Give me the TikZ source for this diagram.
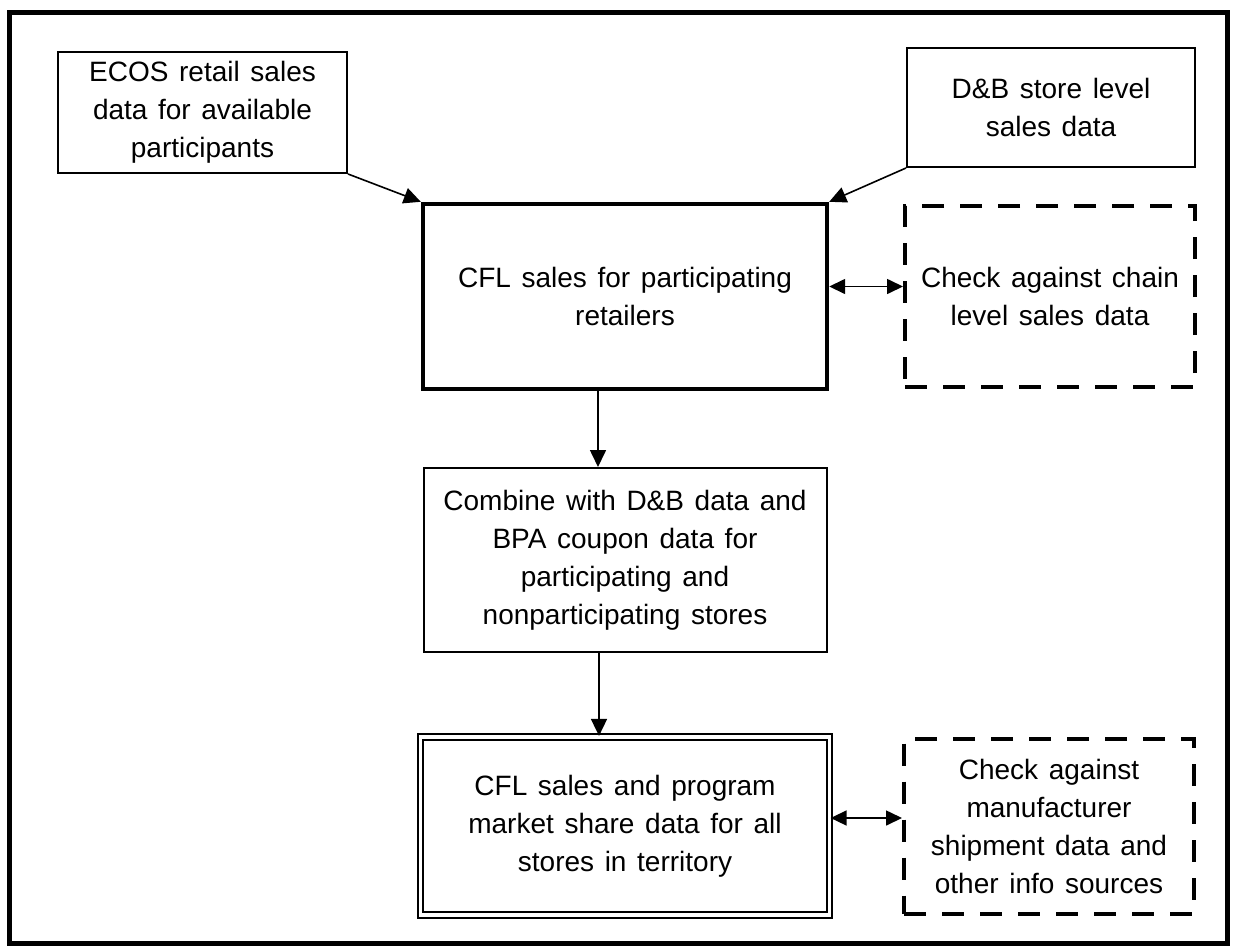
\documentclass[tikz,border=0pt]{standalone}
\usepackage{fontspec}
\setmainfont{Liberation Sans}
\usetikzlibrary{positioning}
\usetikzlibrary{arrows.meta}
\newcommand{\boxfont}{\fontsize{14}{19}\selectfont\spaceskip 0.38em plus 0.1em\relax}

\begin{document}
\begin{tikzpicture}[x=0.5pt, y=-0.5pt,
  box/.style = {draw, line width=1pt, align=center, inner sep=0pt, font=\boxfont},
  mainbox/.style = {box, line width=2.2pt},
  checkbox/.style = {box, line width=2pt, dash pattern=on 11pt off 8pt},
  endbox/.style = {box, line width=1.1pt, double, double distance=1.6pt},
  arr/.style = {line width=0.8pt, -{Triangle[length=8.5pt,width=8pt]}},
  darr/.style = {line width=0.8pt, {Triangle[length=8pt,width=7.5pt]}-{Triangle[length=8pt,width=7.5pt]}}]
            \useasboundingbox (0,0) rectangle (1234,947);
            \draw[line width=2.5pt] (9,13) rectangle (1227,943);
            % Nodes
            \node[mainbox, minimum width=202pt, minimum height=92.5pt] (cfl) at (625,296.5) {CFL sales for participating\\retailers};
            \node[box, minimum width=144.5pt, minimum height=60.5pt] (ecos) at (202.5,112.5) {ECOS retail sales\\data for available\\participants};
            \node[box, minimum width=144pt, minimum height=59.5pt] (dnb) at (1051,107.5) {D\&B store level\\sales data};
            \node[checkbox, minimum width=145pt, minimum height=90.5pt, node distance=212.5pt] (chain) [right of=cfl] {Check against chain\\level sales data};
            \node[box, minimum width=201.5pt, minimum height=92pt, node distance=131.75pt] (combine) [below of=cfl] {Combine with D\&B data and\\BPA coupon data for\\participating and\\nonparticipating stores};
            \node[endbox, minimum width=204.5pt, minimum height=89pt, node distance=133pt] (share) [below of=combine] {CFL sales and program\\market share data for all\\stores in territory};
            \node[checkbox, minimum width=145pt, minimum height=87.5pt, node distance=212pt] (manuf) [right of=share] {Check against\\manufacturer\\shipment data and\\other info sources};
            % Edges
            \draw[arr] (ecos.south east) -- (cfl.north west);
            \draw[arr] (dnb.south west) -- (cfl.north east);
            \draw[darr] ([yshift=5pt]cfl.east) -- ([yshift=5pt]cfl.east -| chain.west);
            \draw[arr] ([xshift=-13.5pt]cfl.south) -- ([xshift=-13.5pt]cfl.south |- combine.north);
            \draw[arr] ([xshift=-13pt]combine.south) -- ([xshift=-13pt]combine.south |- share.north);
            \draw[darr] ([yshift=4pt]share.east) -- ([yshift=4pt]share.east -| manuf.west);
\end{tikzpicture}
\end{document}
